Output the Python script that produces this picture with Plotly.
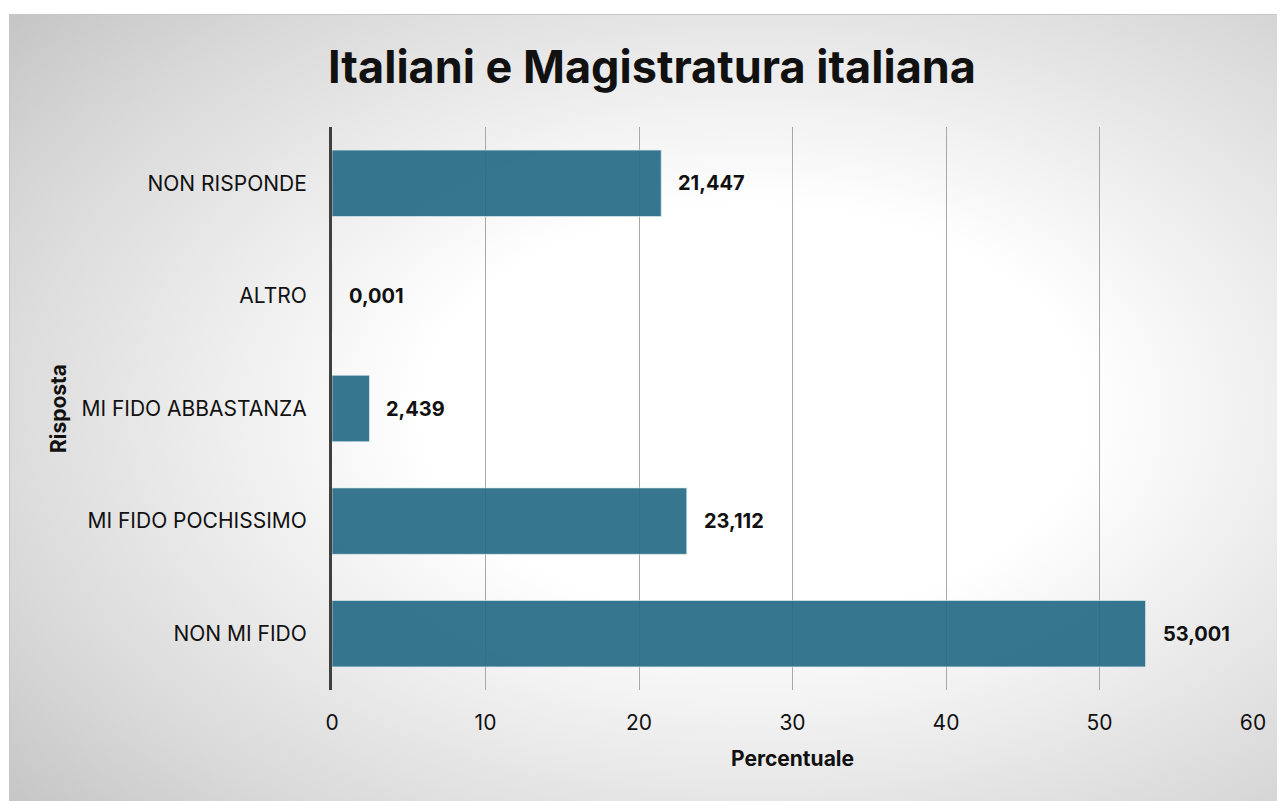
import base64
import plotly.graph_objects as go

categories = ["NON MI FIDO", "MI FIDO POCHISSIMO", "MI FIDO ABBASTANZA", "ALTRO", "NON RISPONDE"]
values = [53.001, 23.112, 2.439, 0.001, 21.447]
x_ticks = [0, 10, 20, 30, 40, 50, 60]

W, H = 1285, 801
L, R, T, B = 324, 40, 119, 119
pw, ph = W - L - R, H - T - B

def px_to_paper_x(px):
    return (px - L) / pw

def px_to_paper_y(py):
    return (H - B - py) / ph

bx0, by0, bx1, by1 = 1, 6, 1285, 801
bw, bh = bx1 - bx0, by1 - by0
svg = f'''<svg xmlns="http://www.w3.org/2000/svg" width="{bw}" height="{bh}" viewBox="0 0 {bw} {bh}" preserveAspectRatio="none">
<defs><radialGradient id="g" cx="0.58" cy="0.5" r="0.78" fx="0.58" fy="0.5">
<stop offset="0" stop-color="#ffffff"/><stop offset="0.33" stop-color="#ffffff"/>
<stop offset="0.78" stop-color="#d9d9d9"/><stop offset="1" stop-color="#c3c3c3"/></radialGradient></defs>
<rect x="0" y="0" width="{bw}" height="{bh}" fill="url(#g)" stroke="#c6c6c6" stroke-width="2"/></svg>'''
src = "data:image/svg+xml;base64," + base64.b64encode(svg.encode()).decode()

fig = go.Figure()
fig.add_trace(go.Bar(
    y=categories, x=values, orientation="h",
    marker=dict(color="rgba(38,106,134,0.92)", line=dict(color="rgba(220,235,240,0.7)", width=1)),
    hoverinfo="skip",
))

annotations = []
for c, v in zip(categories, values):
    annotations.append(dict(
        x=v, y=c, xref="x", yref="y", text=f"{v:.3f}".replace(".", ","),
        showarrow=False, xanchor="left", xshift=15,
        font=dict(family="Inter", size=20, color="#111111", weight="bold"),
    ))

fig.update_layout(
    width=W, height=H,
    margin=dict(l=L, r=R, t=T, b=B),
    paper_bgcolor="white", plot_bgcolor="rgba(0,0,0,0)",
    bargap=0.41,
    showlegend=False,
    title=dict(text="Italiani e Magistratura italiana", x=644 / W, xanchor="center",
               y=1 - 59 / H, yanchor="middle",
               font=dict(family="Inter", size=45, color="#111111", weight="bold")),
    font=dict(family="Inter", size=21, color="#111111"),
    images=[dict(source=src, xref="paper", yref="paper",
                 x=px_to_paper_x(bx0), y=px_to_paper_y(by0),
                 sizex=px_to_paper_x(bx1) - px_to_paper_x(bx0),
                 sizey=px_to_paper_y(by0) - px_to_paper_y(by1),
                 sizing="stretch", xanchor="left", yanchor="top", layer="below")],
    annotations=annotations,
    xaxis=dict(range=[0, 60], tickvals=x_ticks, showgrid=True, gridcolor="#a8a8a8", gridwidth=1,
               zeroline=False, showline=False, ticks="", ticklabelstandoff=18,
               tickfont=dict(family="Inter", size=21, color="#111111"),
               title=dict(text="Percentuale", standoff=17,
                          font=dict(family="Inter", size=21, color="#111111", weight="bold"))),
    yaxis=dict(categoryorder="array", categoryarray=categories, showline=True, linecolor="#404040",
               linewidth=3, ticks="", showgrid=False, zeroline=False, ticklabelstandoff=18,
               tickfont=dict(family="Inter", size=21, color="#111111"),
               title=dict(text="Risposta", standoff=10,
                          font=dict(family="Inter", size=21, color="#111111", weight="bold"))),
)

fig.write_html("out.html")
